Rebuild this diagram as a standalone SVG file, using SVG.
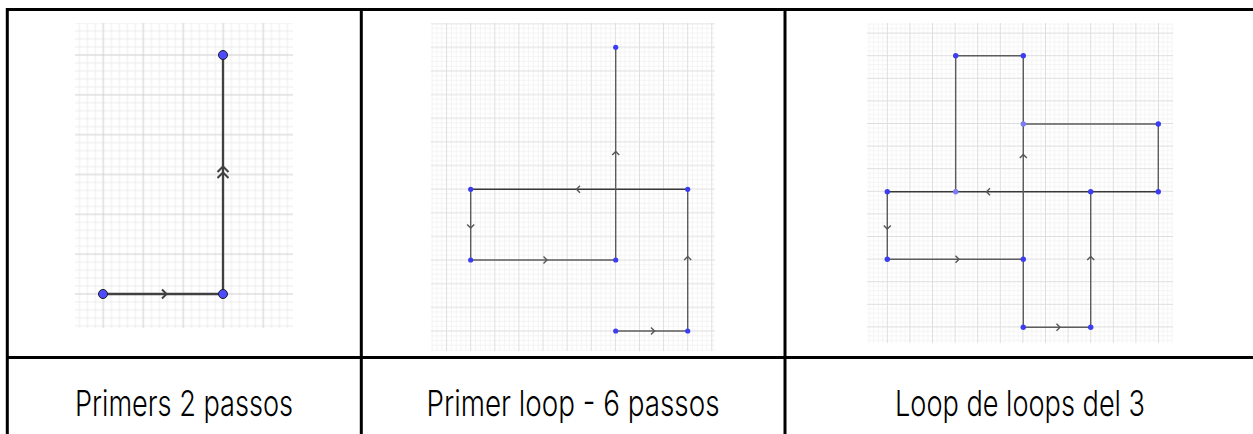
<svg xmlns="http://www.w3.org/2000/svg" width="1253" height="434" viewBox="0 0 1253 434">
<style>
.tb{stroke:#000;stroke-width:3;fill:none}
.maj{stroke:#cfcfcf;stroke-width:1;fill:none}
.min{stroke:#ededed;stroke-width:1;fill:none}
.maj2{stroke:#dedede;stroke-width:1;fill:none}
.min2{stroke:#f1f1f1;stroke-width:0.8;fill:none}
.e1{stroke:#414141;stroke-width:2.3;fill:none}
.e2{stroke:#5c5c5c;stroke-width:1.4;fill:none}
.e2d{stroke:#383838;stroke-width:1.4;fill:none}
.a1{stroke:#414141;stroke-width:2;fill:none;stroke-linejoin:miter}
.a2{stroke:#555;stroke-width:1.4;fill:none}
.p1{fill:#4d4dff;stroke:#1e1e1e;stroke-width:1}
.p2{fill:#3c3cf0}
.p2l{fill:#7d7df2}
.lbl{font-family:Inter,'DejaVu Sans',sans-serif;font-weight:300;font-size:36px;fill:#000;text-anchor:middle}
</style>
<defs>
<pattern id="g1" patternUnits="userSpaceOnUse" x="83.3" y="35.08" width="40" height="39.83">
<path class="min" d="M4,0V39.83M12,0V39.83M28,0V39.83M36,0V39.83M0,3.98H40M0,11.95H40M0,27.88H40M0,35.85H40"/>
<path class="maj" d="M20,0V39.83M0,19.92H40"/>
</pattern>
<pattern id="g2" patternUnits="userSpaceOnUse" x="458.65" y="35.48" width="24.11" height="23.64">
<path class="min2" d="M2.41,0V23.64M7.23,0V23.64M16.88,0V23.64M21.70,0V23.64M0,2.36H24.11M0,7.09H24.11M0,16.55H24.11M0,21.28H24.11"/>
<path class="maj2" d="M12.055,0V23.64M0,11.82H24.11"/>
</pattern>
<pattern id="g3" patternUnits="userSpaceOnUse" x="876.0" y="44.4" width="22.6" height="22.6">
<path class="min2" d="M2.26,0V22.6M6.78,0V22.6M15.82,0V22.6M20.34,0V22.6M0,2.26H22.6M0,6.78H22.6M0,15.82H22.6M0,20.34H22.6"/>
<path class="maj2" d="M11.3,0V22.6M0,11.3H22.6"/>
</pattern>
</defs>
<rect width="1253" height="434" fill="#fff"/>
<g id="table">
<path class="tb" d="M6,9.5H1253M7.3,8V434M361.3,8V434M785,8V434M6,357.5H1253"/>
</g>
<g id="grids">
<rect x="75" y="23" width="218" height="305" fill="url(#g1)"/>
<rect x="431" y="23" width="284" height="328" fill="url(#g2)"/>
<rect x="867" y="23" width="306" height="320" fill="url(#g3)"/>
</g>
<g id="connectors">
<path class="e1" d="M103,294H223"/>
<path class="a1" d="M162,289.5L166.5,294L162,298.5"/>
<path class="e1" d="M223,294V55"/>
<path class="a1" d="M217.5,172L223,166.5L228.5,172M217.5,178L223,172.5L228.5,178"/>
<path class="e2" d="M615.7,331H687.7"/>
<path class="a2" d="M651,327.5L654.5,331L651,334.5"/>
<path class="e2" d="M687.7,331V189.3"/>
<path class="a2" d="M684.2,260L687.7,256.5L691.2,260"/>
<path class="e2d" d="M687.7,189.3H470.7"/>
<path class="a2" d="M580,185.8L576.5,189.3L580,192.8"/>
<path class="e2" d="M470.7,189.3V260"/>
<path class="a2" d="M467.2,224.5L470.7,228L474.2,224.5"/>
<path class="e2" d="M470.7,260H615.7"/>
<path class="a2" d="M543.5,256.5L547,260L543.5,263.5"/>
<path class="e2" d="M615.7,260V47.3"/>
<path class="a2" d="M612.2,155L615.7,151.5L619.2,155"/>
<path class="e2" d="M1023.3,327.3H1090.7"/>
<path class="a2" d="M1056.5,323.8L1060,327.3L1056.5,330.8"/>
<path class="e2" d="M1090.7,327.3V191.7"/>
<path class="a2" d="M1087.2,260L1090.7,256.5L1094.2,260"/>
<path class="e2d" d="M1158.3,191.7H887.3"/>
<path class="a2" d="M990,188.2L986.5,191.7L990,195.2"/>
<path class="e2" d="M887.3,191.7V259.3"/>
<path class="a2" d="M883.8,225.5L887.3,229L890.8,225.5"/>
<path class="e2" d="M887.3,259.3H1023.3"/>
<path class="a2" d="M955.5,255.8L959,259.3L955.5,262.8"/>
<path class="e2" d="M1023.3,327.3V55.7"/>
<path class="a2" d="M1019.8,158L1023.3,154.5L1026.8,158"/>
<path class="e2" d="M1023.3,55.7H955.7V191.7"/>
<path class="e2" d="M1023.3,124H1158.3V191.7"/>
</g>
<g id="n1-a"><circle class="p1" cx="103" cy="294" r="4.5"/></g>
<g id="n1-b"><circle class="p1" cx="223" cy="294" r="4.5"/></g>
<g id="n1-c"><circle class="p1" cx="223" cy="55" r="4.5"/></g>
<g id="n2-a"><circle class="p2" cx="615.7" cy="331" r="2.6"/></g>
<g id="n2-b"><circle class="p2" cx="687.7" cy="331" r="2.6"/></g>
<g id="n2-c"><circle class="p2" cx="687.7" cy="189.3" r="2.6"/></g>
<g id="n2-d"><circle class="p2" cx="470.7" cy="189.3" r="2.6"/></g>
<g id="n2-e"><circle class="p2" cx="470.7" cy="260" r="2.6"/></g>
<g id="n2-f"><circle class="p2" cx="615.7" cy="260" r="2.6"/></g>
<g id="n2-g"><circle class="p2" cx="615.7" cy="47.3" r="2.6"/></g>
<g id="n3-a"><circle class="p2" cx="1023.3" cy="327.3" r="2.7"/></g>
<g id="n3-b"><circle class="p2" cx="1090.7" cy="327.3" r="2.7"/></g>
<g id="n3-c"><circle class="p2" cx="1090.7" cy="191.7" r="2.7"/></g>
<g id="n3-d"><circle class="p2" cx="887.3" cy="191.7" r="2.7"/></g>
<g id="n3-e"><circle class="p2" cx="887.3" cy="259.3" r="2.7"/></g>
<g id="n3-f"><circle class="p2" cx="1023.3" cy="259.3" r="2.7"/></g>
<g id="n3-g"><circle class="p2" cx="1023.3" cy="55.7" r="2.7"/></g>
<g id="n3-h"><circle class="p2" cx="955.7" cy="55.7" r="2.7"/></g>
<g id="n3-i"><circle class="p2l" cx="955.7" cy="191.7" r="2.7"/></g>
<g id="n3-j"><circle class="p2l" cx="1023.3" cy="124" r="2.7"/></g>
<g id="n3-k"><circle class="p2" cx="1158.3" cy="124" r="2.7"/></g>
<g id="n3-l"><circle class="p2" cx="1158.3" cy="191.7" r="2.7"/></g>
<g id="labels">
<text class="lbl" x="184" y="416" textLength="218" lengthAdjust="spacingAndGlyphs">Primers 2 passos</text>
<text class="lbl" x="573" y="416" textLength="293" lengthAdjust="spacingAndGlyphs">Primer loop - 6 passos</text>
<text class="lbl" x="1020" y="416" textLength="250" lengthAdjust="spacingAndGlyphs">Loop de loops del 3</text>
</g>
</svg>
